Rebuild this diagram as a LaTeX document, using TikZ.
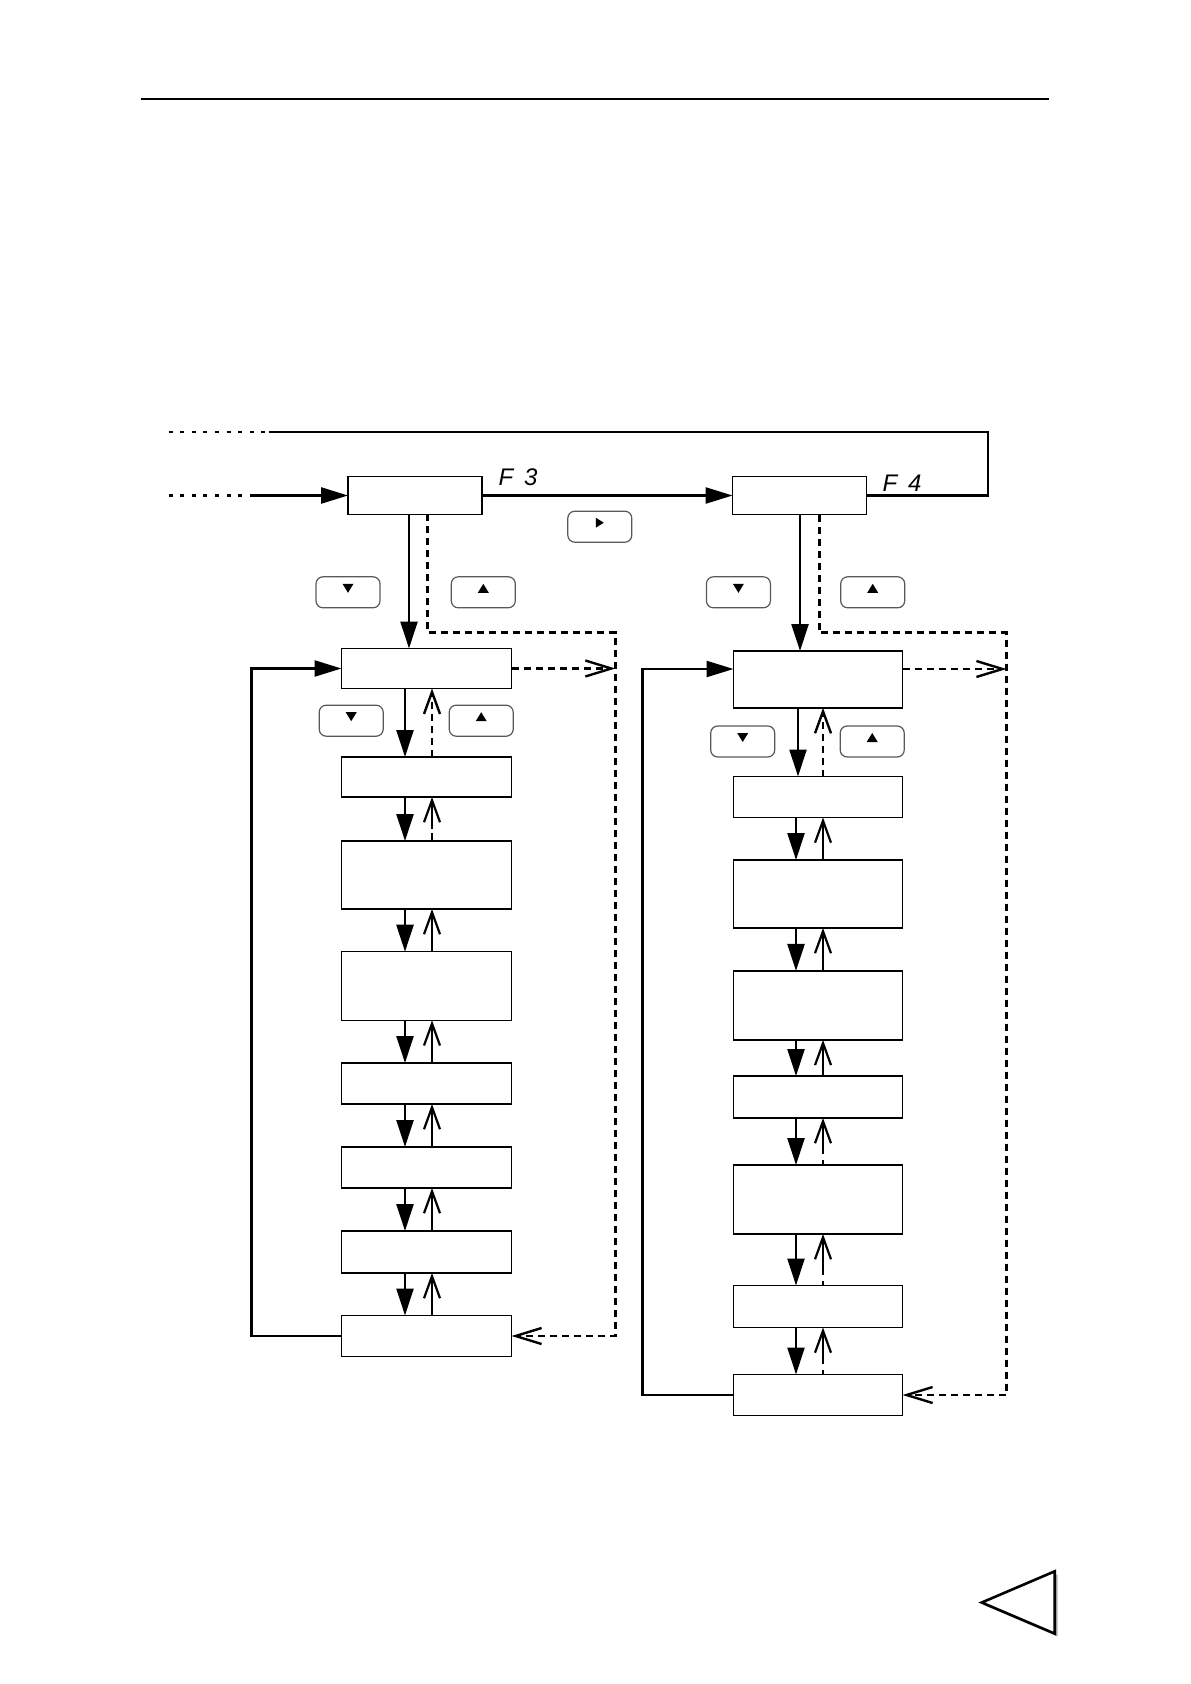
\documentclass[tikz,border=0pt]{standalone}
\usepackage{fontspec}
\newfontfamily\segfont[LetterSpace=45]{Liberation Sans}
\usetikzlibrary{arrows.meta,calc}
\newcommand\mybtndown[1]{\fill ($(#1.center)+(-5.5,-8.5)$) -- ($(#1.center)+(5.5,-8.5)$) -- ($(#1.center)+(0,0.5)$) -- cycle;}
\newcommand\mybtnup[1]{\fill ($(#1.center)+(-5.5,0.5)$) -- ($(#1.center)+(5.5,0.5)$) -- ($(#1.center)+(0,-8.5)$) -- cycle;}
\newcommand\mybtnright[1]{\fill ($(#1.center)+(-4,-9)$) -- ($(#1.center)+(-4,1)$) -- ($(#1.center)+(4,-4)$) -- cycle;}
\tikzset{
 box/.style={draw, line width=0.7pt, inner sep=0pt, outer sep=0pt},
 lbox/.style={box, minimum width=85pt},
 rbox/.style={box, minimum width=84.5pt},
 btn/.style={draw=black!65, line width=0.6pt, rounded corners=3.5pt, minimum width=32pt, minimum height=15.5pt, inner sep=0pt},
 mainline/.style={line width=1.2pt},
 dotline/.style={line width=1.1pt, dash pattern=on 2pt off 3.8pt},
 dashline/.style={line width=1.2pt, dash pattern=on 3.5pt off 2.5pt},
 downarrow/.style={line width=1.2pt, -{Triangle[length=13.5pt,width=8.5pt]}},
 uparrow/.style={line width=1.1pt, -{Straight Barb[length=11pt,width=8pt]}},
 openarrow/.style={-{Straight Barb[length=13pt,width=8pt]}},
 fillarrow/.style={-{Triangle[length=13.5pt,width=8pt]}},
 gapped/.style={dash pattern=on 2.5pt off 3pt on 80pt off 0pt},
 seglabel/.style={font=\segfont\itshape\fontsize{12}{12}\selectfont, inner sep=0pt}
}
\begin{document}
\begin{tikzpicture}[x=0.5pt,y=-0.5pt]
\useasboundingbox (0,0) rectangle (1190,1684);
% top rule
\coordinate (ruleA) at (140.7,98.8);
\coordinate (ruleB) at (1049.3,98.8);
\draw[line width=1pt] (ruleA) -- (ruleB);

% top boxes
\node[box, minimum width=67pt, minimum height=18.75pt] (F3) at (415,495.5) {};
\node[box, minimum width=67pt, minimum height=19pt] (F4) at (799.6,495.5) {};
\node[seglabel] (F3lab) at (518,477) {F3};
\node[seglabel] (F4lab) at (902,483) {F4};

% left column boxes
\node[lbox, minimum height=20pt] (L1) at (426.5,668.5) {};
\node[lbox, minimum height=20pt] (L2) at (426.5,777) {};
\node[lbox, minimum height=34pt] (L3) at (426.5,875) {};
\node[lbox, minimum height=34.3pt] (L4) at (426.5,986) {};
\node[lbox, minimum height=20.5pt] (L5) at (426.5,1083.5) {};
\node[lbox, minimum height=20.5pt] (L6) at (426.5,1167.5) {};
\node[lbox, minimum height=21pt] (L7) at (426.5,1252) {};
\node[lbox, minimum height=20.5pt] (L8) at (426.5,1336) {};

% right column boxes
\node[rbox, minimum height=28.4pt] (R1) at (818,679.4) {};
\node[rbox, minimum height=20.5pt] (R2) at (818,797) {};
\node[rbox, minimum height=34pt] (R3) at (818,894) {};
\node[rbox, minimum height=34.5pt] (R4) at (818,1005.4) {};
\node[rbox, minimum height=21pt] (R5) at (818,1097) {};
\node[rbox, minimum height=34.5pt] (R6) at (818,1199.5) {};
\node[rbox, minimum height=21pt] (R7) at (818,1306.5) {};
\node[rbox, minimum height=20.5pt] (R8) at (818,1395) {};

% buttons
\node[btn] (bL0d) at (348,592.3) {};
\node[btn] (bL0u) at (483.3,592.3) {};
\node[btn] (bNext) at (599.8,526.7) {};
\node[btn] (bL1d) at (351.2,720.7) {};
\node[btn] (bL1u) at (481.2,720.7) {};
\node[btn] (bR0d) at (738.4,592.3) {};
\node[btn] (bR0u) at (872.7,592.3) {};
\node[btn] (bR1d) at (742.7,741.5) {};
\node[btn] (bR1u) at (872.2,741.5) {};
\mybtndown{bL0d}\mybtnup{bL0u}\mybtnright{bNext}
\mybtndown{bL1d}\mybtnup{bL1u}
\mybtndown{bR0d}\mybtnup{bR0u}
\mybtndown{bR1d}\mybtnup{bR1u}

% top lines
\coordinate (topDot) at (168.6,431.8);
\coordinate (topSolid) at (268.5,431.8);
\coordinate (topCorner) at (988,431.8);
\draw[dotline] (topDot) -- (topSolid);
\draw[mainline] (topSolid) -- (topCorner) -- (topCorner |- F4.east) -- (F4.east);
\coordinate (inDot) at (168.6,495.5);
\coordinate (inSolid) at (250,495.5);
\draw[dotline] (inDot) -- (inSolid);
\draw[mainline, fillarrow] (inSolid) -- (F3.west);
\draw[mainline, fillarrow] (F3.east) -- (F4.west);

% x positions
\coordinate (xF3d) at (409,0);
\coordinate (xLd) at (405,0);
\coordinate (xLu) at (432,0);
\coordinate (xF4d) at (800,0);
\coordinate (xR1d) at (798,0);
\coordinate (xRd) at (796,0);
\coordinate (xRu) at (823,0);

% down from F3 / F4
\draw[downarrow] (F3.south -| xF3d) -- (L1.north -| xF3d);
\draw[downarrow] (F4.south -| xF4d) -- (R1.north -| xF4d);

% left column arrows
\draw[downarrow] (L1.south -| xLd) -- (L2.north -| xLd);
\draw[uparrow, dashline] (L2.north -| xLu) -- (L1.south -| xLu);
\draw[downarrow] (L2.south -| xLd) -- (L3.north -| xLd);
\draw[uparrow, dash pattern=on 4pt off 2pt on 80pt off 0pt] (L3.north -| xLu) -- (L2.south -| xLu);
\draw[downarrow] (L3.south -| xLd) -- (L4.north -| xLd);
\draw[uparrow] (L4.north -| xLu) -- (L3.south -| xLu);
\draw[downarrow] (L4.south -| xLd) -- (L5.north -| xLd);
\draw[uparrow] (L5.north -| xLu) -- (L4.south -| xLu);
\draw[downarrow] (L5.south -| xLd) -- (L6.north -| xLd);
\draw[uparrow] (L6.north -| xLu) -- (L5.south -| xLu);
\draw[downarrow] (L6.south -| xLd) -- (L7.north -| xLd);
\draw[uparrow] (L7.north -| xLu) -- (L6.south -| xLu);
\draw[downarrow] (L7.south -| xLd) -- (L8.north -| xLd);
\draw[uparrow] (L8.north -| xLu) -- (L7.south -| xLu);

% right column arrows
\draw[downarrow] (R1.south -| xR1d) -- (R2.north -| xR1d);
\draw[uparrow, line width=1.4pt, dashline] (R2.north -| xRu) -- (R1.south -| xRu);
\draw[downarrow] (R2.south -| xRd) -- (R3.north -| xRd);
\draw[uparrow] (R3.north -| xRu) -- (R2.south -| xRu);
\draw[downarrow] (R3.south -| xRd) -- (R4.north -| xRd);
\draw[uparrow] (R4.north -| xRu) -- (R3.south -| xRu);
\draw[downarrow] (R4.south -| xRd) -- (R5.north -| xRd);
\draw[uparrow] (R5.north -| xRu) -- (R4.south -| xRu);
\draw[downarrow] (R5.south -| xRd) -- (R6.north -| xRd);
\draw[uparrow, gapped] (R6.north -| xRu) -- (R5.south -| xRu);
\draw[downarrow] (R6.south -| xRd) -- (R7.north -| xRd);
\draw[uparrow, gapped] (R7.north -| xRu) -- (R6.south -| xRu);
\draw[downarrow] (R7.south -| xRd) -- (R8.north -| xRd);
\draw[uparrow, gapped] (R8.north -| xRu) -- (R7.south -| xRu);

% dashed return paths, left
\coordinate (dLtop) at (427.5,632.6);
\coordinate (dLcorner) at (615.4,632.6);
\coordinate (dLbot) at (615.4,1336);
\draw[dashline, openarrow] (F3.south -| dLtop) -- (dLtop) -- (dLcorner) -- (dLbot) -- (L8.east);
\draw[dashline, openarrow] (L1.east) -- (L1.east -| dLcorner);

% dashed return paths, right
\coordinate (dRtop) at (819.5,632.6);
\coordinate (dRcorner) at (1006.5,632.6);
\coordinate (dRbot) at (1006.5,1395);
\coordinate (yR1) at (0,669);
\draw[dashline, openarrow] (F4.south -| dRtop) -- (dRtop) -- (dRcorner) -- (dRbot) -- (R8.east);
\draw[dashline, openarrow] (R1.east |- yR1) -- (dRcorner |- yR1);

% solid loops
\coordinate (loopL) at (251.3,0);
\coordinate (loopR) at (642.3,0);
\draw[mainline, fillarrow] (L8.west) -- (L8.west -| loopL) -- (L1.west -| loopL) -- (L1.west);
\draw[mainline, fillarrow] (R8.west) -- (R8.west -| loopR) -- (loopR |- yR1) -- (R1.west |- yR1);

% page-turn triangle
\fill[black!30] (984.7,1605.5) -- (1057.7,1574.3) -- (1057.7,1636.6) -- cycle;
\draw[line width=1.3pt, fill=white, line join=miter] (981.7,1602.5) -- (1054.7,1571.3) -- (1054.7,1633.6) -- cycle;
\end{tikzpicture}
\end{document}
